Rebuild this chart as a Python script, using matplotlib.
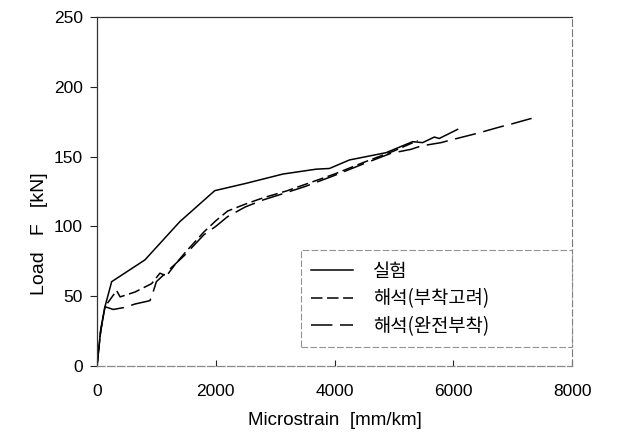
import matplotlib
matplotlib.use("Agg")
import matplotlib.pyplot as plt

# Data
exp_x = [0, 62, 134, 247, 807, 1395, 1983, 2516, 3131, 3692, 3916, 4252, 4868, 5316, 5484, 5681, 5765, 6073]
exp_y = [0, 25.8, 42.5, 60.4, 76, 103.4, 125.6, 130.9, 137.5, 141, 141.5, 147.6, 152.8, 160.7, 160, 164, 163, 169.5]

bond_x = [0, 62, 134, 330, 390, 640, 920, 1060, 1170, 1320, 1500, 1800, 2000, 2200, 2500, 2800, 3200, 3600, 4000, 4500, 5000, 5400]
bond_y = [0, 25, 42.5, 54, 49.5, 53, 59, 66.5, 64.5, 73, 82, 96, 104, 111, 116, 120.5, 125.5, 131.5, 137.5, 146, 154, 161.5]

full_x = [0, 62, 134, 274, 470, 640, 890, 920, 1000, 1480, 1800, 2000, 2200, 2500, 2800, 3100, 3500, 4000, 4500, 4953, 5289, 5457, 5793, 5960, 6296, 6466, 6800, 6985, 7320]
full_y = [0, 25, 42.5, 40.5, 42, 44.4, 46.8, 49.6, 60.4, 79.5, 94, 100, 107, 114, 119, 123, 128.5, 136.5, 145, 152.4, 155.2, 157.6, 160, 161.9, 165.5, 167.4, 171.4, 173.4, 177.4]

labels = ["실험", "해석(부착고려)", "해석(완전부착)"]
x_ticks = [0, 2000, 4000, 6000, 8000]
y_ticks = [0, 50, 100, 150, 200, 250]

plt.rcParams['font.family'] = ['Liberation Sans', 'DejaVu Sans']

fig = plt.figure(figsize=(6.33, 4.44), dpi=100)
ax = fig.add_axes([97/633, 1-366/444, (572-97)/633, (366-17)/444])

lw = 1.1
ax.plot(exp_x, exp_y, color='black', lw=lw, label=labels[0])
ax.plot(bond_x, bond_y, color='black', lw=lw, linestyle=(0, (7.5, 3)), label=labels[1])
ax.plot(full_x, full_y, color='black', lw=lw, linestyle=(0, (14, 5)), label=labels[2])

ax.set_xlim(0, 8000)
ax.set_ylim(0, 250)
ax.set_xticks(x_ticks)
ax.set_yticks(y_ticks)
ax.tick_params(axis='x', direction='in', length=4, width=0.8, labelsize=12.5, pad=13, colors='#222222', labelcolor='black')
ax.tick_params(axis='y', direction='out', length=5, width=0.8, labelsize=12.5, pad=5, colors='#222222', labelcolor='black')

for side in ['left', 'top']:
    ax.spines[side].set_color('#333333')
    ax.spines[side].set_linewidth(0.9)
ax.spines['bottom'].set_color('#888888')
ax.spines['bottom'].set_linewidth(0.9)
ax.spines['bottom'].set_linestyle((0, (6, 2)))
ax.spines['right'].set_color('#777777')
ax.spines['right'].set_linewidth(0.8)
ax.spines['right'].set_linestyle((0, (6, 3)))

ax.set_xlabel("Microstrain  [mm/km]", fontsize=13.5, labelpad=9)
ax.set_ylabel("Load   F   [kN]", fontsize=14, labelpad=12)
ax.yaxis.set_label_coords(-0.103, 0.38)

leg = ax.legend(loc='lower left', bbox_to_anchor=(0.4295, 0.054, 0.5705, 0.273),
                mode='expand', borderaxespad=0, fancybox=False, frameon=True,
                prop={'family': ['Noto Sans CJK KR', 'DejaVu Sans'], 'size': 13.5},
                handlelength=2.2, handletextpad=1.1, labelspacing=0.35, borderpad=0.55)
frame = leg.get_frame()
frame.set_edgecolor('#777777')
frame.set_linewidth(0.8)
frame.set_linestyle((0, (6, 2)))

fig.savefig("out.png", dpi=100)
